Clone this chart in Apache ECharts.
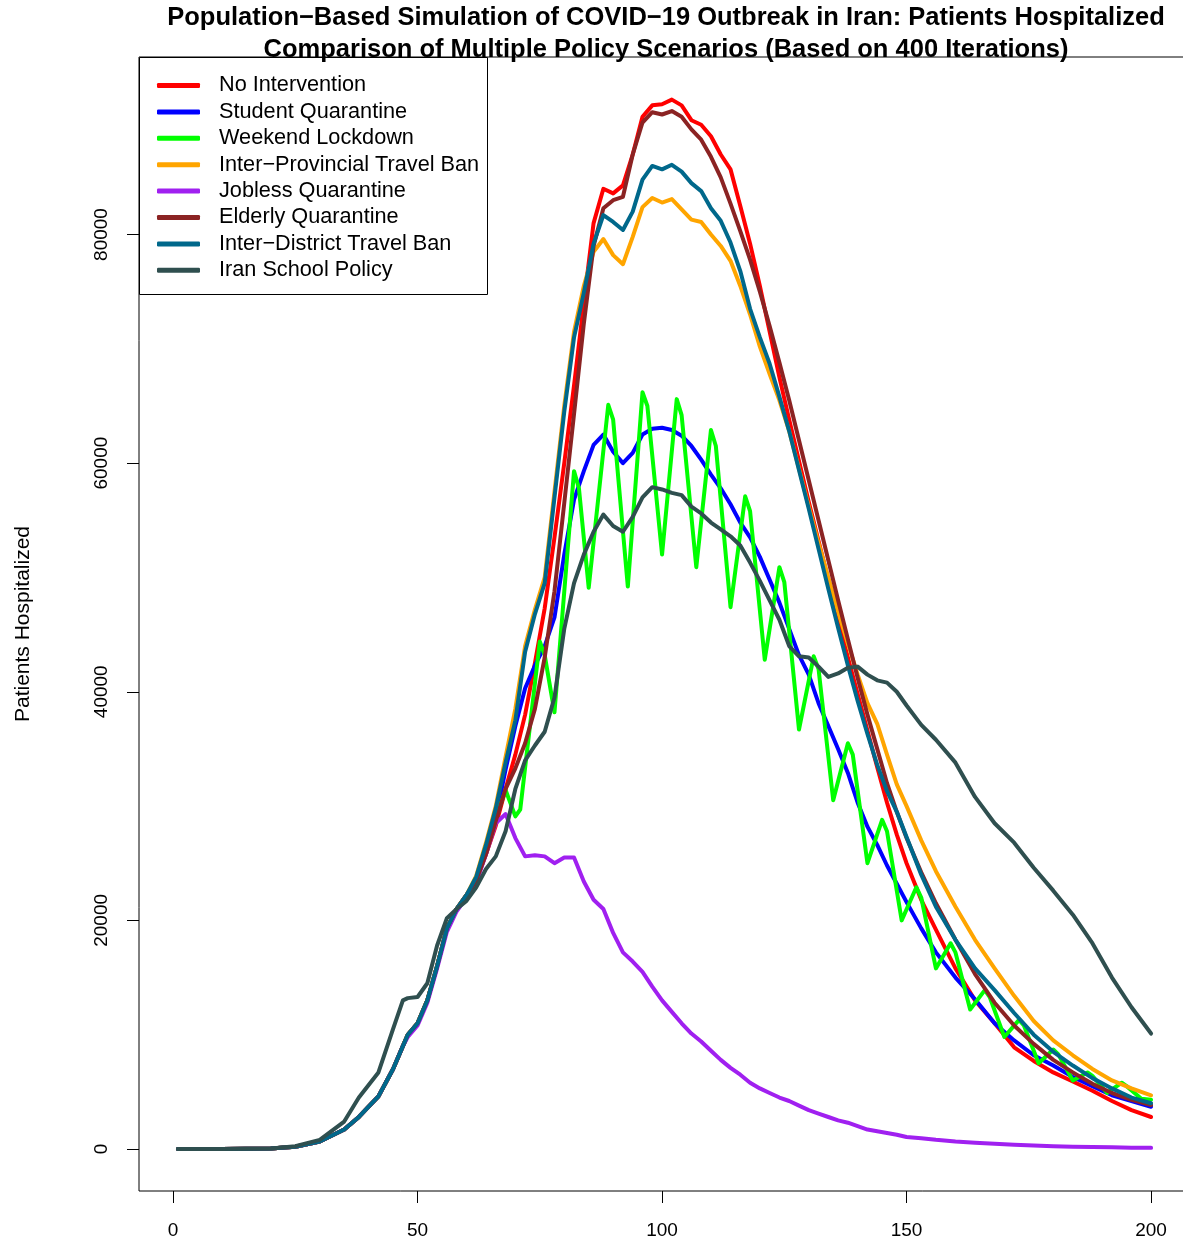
<!DOCTYPE html>
<html>
<head>
<meta charset="utf-8">
<script src="https://cdn.jsdelivr.net/npm/echarts@6/dist/echarts.min.js"></script>
<style>
  html, body { margin: 0; padding: 0; background: #fff; }
  #chart { width: 1183px; height: 1242px; }
</style>
</head>
<body>
<div id="chart"></div>
<script>
// days shared by the smooth scenarios
const days = [1, 10, 20, 25, 30, 35, 38, 42, 45, 47,
  48, 50, 52, 54, 56, 58, 60, 62, 64, 66,
  68, 70, 72, 74, 76, 78, 80, 82, 84, 86,
  88, 90, 92, 94, 96, 98, 100, 102, 104, 106,
  108, 110, 112, 114, 116, 118, 120, 122, 124, 126,
  128, 130, 132, 134, 136, 138, 140, 142, 144, 146,
  148, 150, 153, 156, 160, 164, 168, 172, 176, 180,
  184, 188, 192, 196, 200];

const noIntervention = [0, 0, 50, 200, 650, 1700, 2800, 4600, 7000, 9000,
  10000, 11000, 13000, 16000, 19300, 21000, 22200, 23500, 25800, 28300,
  31500, 34500, 38000, 42500, 47300, 53500, 60000, 66800, 74000, 81000,
  84000, 83600, 84300, 87000, 90300, 91300, 91400, 91800, 91300, 90000,
  89600, 88600, 87000, 85700, 82500, 79200, 75500, 71500, 67500, 63800,
  60200, 56600, 53200, 49800, 46300, 43000, 39800, 36600, 33400, 30300,
  27500, 25000, 21800, 19200, 15800, 13000, 11000, 8900, 7700, 6700,
  5900, 5100, 4200, 3400, 2800];

const studentQuarantine = [0, 0, 50, 200, 650, 1700, 2800, 4600, 7000, 9000,
  10000, 11000, 13000, 16000, 19300, 21000, 22200, 23500, 26000, 29000,
  33200, 37000, 40300, 42300, 44000, 46500, 52000, 56800, 59300, 61600,
  62500, 61000, 60000, 60900, 62500, 63000, 63100, 62900, 62400, 61500,
  60300, 59000, 57800, 56400, 54800, 53500, 51800, 49800, 47800, 45500,
  43200, 41500, 39000, 37000, 35000, 32900, 30300, 28200, 26600, 24800,
  23200, 21600, 19300, 17200, 15000, 13100, 11000, 9500, 8200, 7300,
  6300, 5500, 4700, 4200, 3700];

const provincialBan = [0, 0, 50, 200, 650, 1700, 2800, 4600, 7000, 9000,
  10000, 11000, 13000, 16000, 19300, 21000, 22200, 23900, 26800, 30000,
  34300, 38500, 44000, 47200, 50000, 57500, 65000, 71500, 75500, 78500,
  79600, 78200, 77400, 79800, 82400, 83200, 82800, 83100, 82200, 81300,
  81100, 80000, 79000, 77700, 75500, 73000, 70200, 67800, 65500, 62800,
  59500, 56200, 53000, 50000, 47000, 44200, 41500, 39000, 37200, 34500,
  31900, 30000, 27000, 24300, 21200, 18300, 15800, 13400, 11200, 9500,
  8200, 7000, 6000, 5300, 4700];

const joblessQuarantine = [0, 0, 50, 200, 650, 1700, 2800, 4600, 7000, 9000,
  9800, 10800, 12800, 15800, 19000, 20800, 22000, 23300, 25800, 28500,
  29300, 27200, 25600, 25700, 25600, 25000, 25500, 25500, 23400, 21800,
  21000, 18900, 17200, 16400, 15500, 14200, 13000, 12000, 11000, 10100,
  9400, 8600, 7800, 7100, 6500, 5800, 5300, 4900, 4500, 4200,
  3800, 3400, 3100, 2800, 2500, 2300, 2000, 1700, 1550, 1400,
  1250, 1050, 950, 800, 650, 550, 450, 380, 300, 250,
  200, 180, 150, 120, 100];

const elderlyQuarantine = [0, 0, 50, 200, 650, 1700, 2800, 4600, 7000, 9000,
  10000, 11000, 13000, 16000, 19300, 21000, 22200, 23500, 25800, 28700,
  31500, 33300, 35500, 38500, 43000, 48800, 56500, 64300, 72200, 79000,
  82300, 83000, 83300, 87000, 89800, 90700, 90500, 90800, 90300, 89200,
  88300, 86800, 85000, 82700, 80300, 77800, 75000, 72000, 68800, 65500,
  62000, 58500, 55000, 51500, 48000, 44600, 41200, 38000, 35000, 32000,
  29500, 27200, 24200, 21500, 18300, 15300, 12800, 10800, 9200, 7800,
  6700, 5700, 4900, 4300, 3850];

const districtBan = [0, 0, 50, 200, 650, 1700, 2800, 4600, 7000, 9000,
  10000, 11000, 13000, 16000, 19300, 21000, 22200, 23800, 26600, 29800,
  33800, 37500, 43500, 46800, 49500, 57000, 64500, 71000, 74900, 79200,
  81700, 81100, 80400, 82000, 84800, 86000, 85700, 86100, 85500, 84500,
  83800, 82300, 81200, 79300, 76800, 73500, 71000, 68700, 65800, 62800,
  59400, 56000, 52500, 49000, 45600, 42300, 39200, 36300, 33600, 31300,
  29500, 27300, 24000, 21200, 18300, 15800, 13900, 11900, 10000, 8500,
  7300, 6200, 5300, 4500, 4000];

const iranSchool = [0, 0, 50, 250, 800, 2400, 4500, 6700, 10500, 13000,
  13200, 13300, 14500, 17800, 20200, 21000, 21700, 22900, 24500, 25600,
  27800, 31500, 34000, 35300, 36500, 39500, 45500, 49500, 52000, 54000,
  55500, 54500, 54000, 55300, 57000, 57900, 57700, 57400, 57200, 56200,
  55600, 54800, 54200, 53600, 52800, 51300, 49700, 48000, 46300, 44000,
  43100, 43000, 42200, 41300, 41600, 42100, 42200, 41500, 41000, 40800,
  40000, 38800, 37100, 35800, 33800, 30800, 28500, 26800, 24600, 22600,
  20500, 18000, 15000, 12400, 10100];

// weekend lockdown has its own days (weekly swings)
const lockdownDays = [1, 10, 20, 25, 30, 35, 38, 42, 45, 47,
  48, 50, 52, 54, 56, 58, 60, 62, 64, 66,
  68, 70, 71, 75, 76, 78, 82, 83, 85, 89,
  90, 93, 96, 97, 100, 103, 104, 107, 110, 111,
  114, 117, 118, 121, 124, 125, 128, 131, 132, 135,
  138, 139, 142, 145, 146, 149, 152, 153, 156, 159,
  160, 163, 166, 167, 170, 173, 174, 177, 180, 181,
  184, 187, 188, 191, 194, 195, 198, 200];

const weekendLockdown = [0, 0, 50, 200, 650, 1700, 2800, 4600, 7000, 9000,
  10000, 11000, 13000, 16000, 19300, 21000, 22200, 23500, 26000, 29000,
  31400, 29100, 29700, 44400, 43200, 38200, 59300, 57800, 49100, 65100,
  63800, 49200, 66200, 65000, 52000, 65600, 64200, 50900, 62900, 61500,
  47400, 57100, 55800, 42800, 50900, 49600, 36700, 43100, 42000, 30500,
  35500, 34500, 25000, 28800, 27800, 20000, 22900, 22000, 15800, 18000,
  17200, 12200, 13900, 13300, 9800, 11300, 10800, 7500, 8700, 8300,
  6000, 6700, 6400, 4900, 5800, 5500, 4400, 4300];

const xTicks = [0, 50, 100, 150, 200];
const yTicks = [0, 20000, 40000, 60000, 80000];

const scenarios = [
  { name: 'No Intervention', color: '#FF0000', x: days, y: noIntervention },
  { name: 'Student Quarantine', color: '#0000FF', x: days, y: studentQuarantine },
  { name: 'Weekend Lockdown', color: '#00FF00', x: lockdownDays, y: weekendLockdown },
  { name: 'Inter\u2212Provincial Travel Ban', color: '#FFA500', x: days, y: provincialBan },
  { name: 'Jobless Quarantine', color: '#A020F0', x: days, y: joblessQuarantine },
  { name: 'Elderly Quarantine', color: '#8B2323', x: days, y: elderlyQuarantine },
  { name: 'Inter\u2212District Travel Ban', color: '#00688B', x: days, y: districtBan },
  { name: 'Iran School Policy', color: '#2F4F4F', x: days, y: iranSchool }
];

const font = '"Liberation Sans", Arial, sans-serif';

const chart = echarts.init(document.getElementById('chart'));

chart.setOption({
  backgroundColor: '#fff',
  animation: false,
  grid: {
    left: 139, top: 57, width: 1051, height: 1134,
    outerBoundsMode: 'none',
    containLabel: false,
    show: true, borderColor: '#000', borderWidth: 1,
    backgroundColor: 'transparent'
  },
  xAxis: {
    type: 'value',
    min: -6.96, max: 207.96,
    axisLine: { show: false, onZero: false },
    splitLine: { show: false },
    axisTick: { show: true, inside: false, length: 12, customValues: xTicks, lineStyle: { color: '#000' } },
    axisLabel: { customValues: xTicks, margin: 30, fontSize: 19, color: '#000', fontFamily: font }
  },
  yAxis: {
    type: 'value',
    min: -3674, max: 95530,
    name: 'Patients Hospitalized',
    nameLocation: 'middle',
    nameGap: 105,
    nameMoveOverlap: false,
    nameTextStyle: { fontSize: 21, color: '#000', fontFamily: font },
    axisLine: { show: false, onZero: false },
    splitLine: { show: false },
    axisTick: { show: true, inside: false, length: 12, customValues: yTicks, lineStyle: { color: '#000' } },
    axisLabel: {
      customValues: yTicks, rotate: 90, margin: 28,
      fontSize: 19, color: '#000', fontFamily: font,
      formatter: (v) => String(v)
    }
  },
  legend: {
    orient: 'vertical',
    left: 157, top: 74.5,
    padding: 0,
    itemGap: 4.4,
    itemWidth: 43, itemHeight: 5,
    icon: 'roundRect',
    data: scenarios.map((s) => s.name),
    textStyle: { fontSize: 21.7, lineHeight: 21, color: '#000', fontFamily: font, padding: [0, 0, 0, 14] }
  },
  graphic: [
    {
      type: 'text', x: 666, y: 2, z: 10,
      style: {
        text: 'Population\u2212Based Simulation of COVID\u221219 Outbreak in Iran: Patients Hospitalized\nComparison of Multiple Policy Scenarios (Based on 400 Iterations)',
        textAlign: 'center',
        font: 'bold 25.5px ' + font,
        lineHeight: 32,
        fill: '#000'
      }
    },
    {
      type: 'rect', z: 3,
      shape: { x: 139.5, y: 57.5, width: 348, height: 237 },
      style: { fill: '#fff', stroke: '#000', lineWidth: 1 }
    }
  ],
  series: scenarios.map((s) => ({
    name: s.name,
    type: 'line',
    data: s.x.map((d, i) => [d, s.y[i]]),
    symbol: 'none',
    color: s.color,
    lineStyle: { width: 4, color: s.color, cap: 'round', join: 'round' }
  }))
});
</script>
</body>
</html>
